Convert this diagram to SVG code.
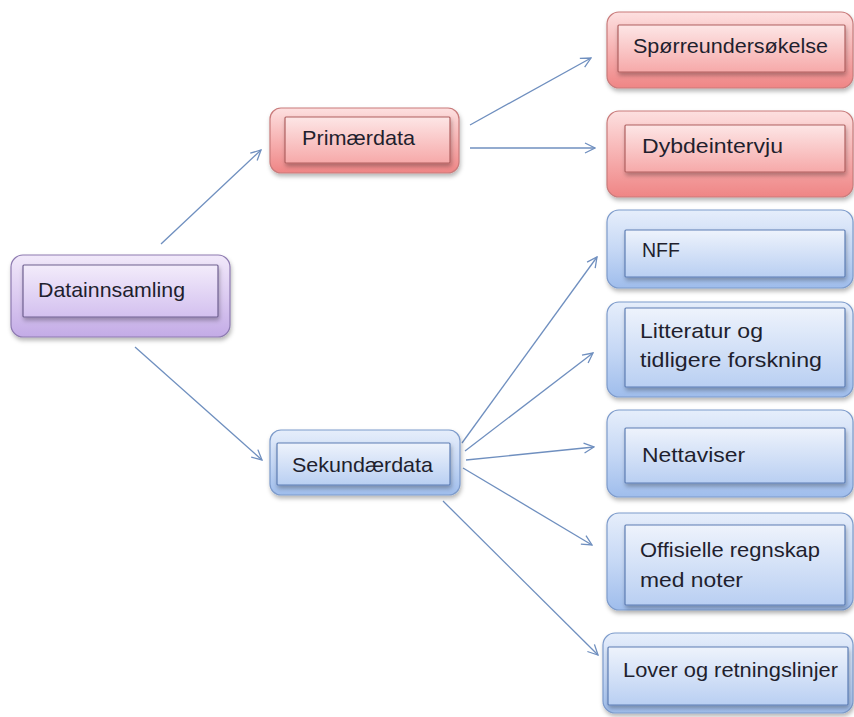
<svg xmlns="http://www.w3.org/2000/svg" width="854" height="717" viewBox="0 0 854 717">
  <defs>
    <linearGradient id="redOuter" x1="0" y1="0" x2="0" y2="1">
      <stop offset="0" stop-color="#fde0e0"/>
      <stop offset="0.5" stop-color="#f7b2b2"/>
      <stop offset="1" stop-color="#ef8585"/>
    </linearGradient>
    <linearGradient id="redInner" x1="0" y1="0" x2="0" y2="1">
      <stop offset="0" stop-color="#fde6e6"/>
      <stop offset="1" stop-color="#f6a9a9"/>
    </linearGradient>
    <linearGradient id="blueOuter" x1="0" y1="0" x2="0" y2="1">
      <stop offset="0" stop-color="#e6eefb"/>
      <stop offset="0.5" stop-color="#c6d8f5"/>
      <stop offset="1" stop-color="#9fbdec"/>
    </linearGradient>
    <linearGradient id="blueInner" x1="0" y1="0" x2="0" y2="1">
      <stop offset="0" stop-color="#eef3fc"/>
      <stop offset="1" stop-color="#b9cff2"/>
    </linearGradient>
    <linearGradient id="purpleOuter" x1="0" y1="0" x2="0" y2="1">
      <stop offset="0" stop-color="#f1e9fa"/>
      <stop offset="0.5" stop-color="#dccbf1"/>
      <stop offset="1" stop-color="#c3abe6"/>
    </linearGradient>
    <linearGradient id="purpleInner" x1="0" y1="0" x2="0" y2="1">
      <stop offset="0" stop-color="#f3ecfb"/>
      <stop offset="1" stop-color="#d3c0ef"/>
    </linearGradient>
    <filter id="shadow" x="-10%" y="-10%" width="125%" height="140%">
      <feDropShadow dx="1" dy="3" stdDeviation="2" flood-color="#000" flood-opacity="0.28"/>
    </filter>
    <marker id="arrow" viewBox="0 0 12 12" refX="11" refY="6" markerWidth="12" markerHeight="12" markerUnits="userSpaceOnUse" orient="auto">
      <path d="M1,1 L11,6 L1,11" fill="none" stroke="#6f8fbf" stroke-width="1.3"/>
    </marker>
  </defs>
  <style>
    .outer { stroke-width: 1.2; filter: url(#shadow); }
    .inner { stroke-width: 1.2; filter: url(#shadow); }
    .red .outer { fill: url(#redOuter); stroke: #c97b7b; }
    .red .inner { fill: url(#redInner); stroke: #b06060; }
    .blue .outer { fill: url(#blueOuter); stroke: #7d9bcb; }
    .blue .inner { fill: url(#blueInner); stroke: #5d7db3; }
    .purple .outer { fill: url(#purpleOuter); stroke: #8d7ab0; }
    .purple .inner { fill: url(#purpleInner); stroke: #6f6090; }
    text { font-family: "Liberation Sans", Arial, sans-serif; font-size: 21px; fill: #1f1f2e; }
    .conn line { stroke: #6f8fbf; stroke-width: 1.3; fill: none; marker-end: url(#arrow); }
  </style>
  <rect width="854" height="717" fill="#ffffff"/>

  <!-- connectors -->
  <g id="connectors" class="conn">
    <line x1="161" y1="244" x2="261" y2="150"/>
    <line x1="135" y1="347" x2="262" y2="460"/>
    <line x1="470" y1="125" x2="591" y2="58"/>
    <line x1="470" y1="148" x2="595" y2="148"/>
    <line x1="462" y1="443" x2="597" y2="257"/>
    <line x1="465" y1="451" x2="593" y2="353"/>
    <line x1="466" y1="460" x2="594" y2="447"/>
    <line x1="463" y1="468" x2="592" y2="545"/>
    <line x1="443" y1="501" x2="598" y2="655"/>
  </g>

  <!-- root -->
  <g id="datainnsamling" class="purple">
    <rect class="outer" x="11" y="255" width="219" height="82" rx="12"/>
    <rect class="inner" x="23" y="265" width="195" height="52" rx="1"/>
    <text x="38" y="297" textLength="147" lengthAdjust="spacingAndGlyphs">Datainnsamling</text>
  </g>

  <!-- level 1 -->
  <g id="primaerdata" class="red">
    <rect class="outer" x="270" y="108" width="189" height="65" rx="11"/>
    <rect class="inner" x="285" y="117" width="165" height="46" rx="1"/>
    <text x="302" y="145" textLength="113" lengthAdjust="spacingAndGlyphs">Primærdata</text>
  </g>
  <g id="sekundaerdata" class="blue">
    <rect class="outer" x="270" y="430" width="190" height="65" rx="11"/>
    <rect class="inner" x="277" y="443" width="173" height="42" rx="1"/>
    <text x="292" y="472" textLength="141" lengthAdjust="spacingAndGlyphs">Sekundærdata</text>
  </g>

  <!-- primary sources -->
  <g id="sporreundersokelse" class="red">
    <rect class="outer" x="607" y="12" width="246" height="76" rx="12"/>
    <rect class="inner" x="618" y="25" width="227" height="47" rx="1"/>
    <text x="633" y="53" textLength="195" lengthAdjust="spacingAndGlyphs">Spørreundersøkelse</text>
  </g>
  <g id="dybdeintervju" class="red">
    <rect class="outer" x="607" y="111" width="246" height="86" rx="12"/>
    <rect class="inner" x="625" y="125" width="220" height="47" rx="1"/>
    <text x="642" y="153" textLength="141" lengthAdjust="spacingAndGlyphs">Dybdeintervju</text>
  </g>

  <!-- secondary sources -->
  <g id="nff" class="blue">
    <rect class="outer" x="607" y="210" width="246" height="78" rx="12"/>
    <rect class="inner" x="625" y="230" width="220" height="47" rx="1"/>
    <text x="642" y="257" textLength="38" lengthAdjust="spacingAndGlyphs">NFF</text>
  </g>
  <g id="litteratur" class="blue">
    <rect class="outer" x="607" y="302" width="246" height="95" rx="12"/>
    <rect class="inner" x="625" y="308" width="220" height="79" rx="1"/>
    <text x="640" y="338" textLength="123" lengthAdjust="spacingAndGlyphs">Litteratur og</text>
    <text x="640" y="367" textLength="182" lengthAdjust="spacingAndGlyphs">tidligere forskning</text>
  </g>
  <g id="nettaviser" class="blue">
    <rect class="outer" x="607" y="410" width="246" height="87" rx="12"/>
    <rect class="inner" x="625" y="428" width="220" height="55" rx="1"/>
    <text x="642" y="462" textLength="103" lengthAdjust="spacingAndGlyphs">Nettaviser</text>
  </g>
  <g id="offisielle" class="blue">
    <rect class="outer" x="607" y="513" width="246" height="97" rx="12"/>
    <rect class="inner" x="625" y="525" width="220" height="80" rx="1"/>
    <text x="640" y="557" textLength="180" lengthAdjust="spacingAndGlyphs">Offisielle regnskap</text>
    <text x="640" y="587" textLength="103" lengthAdjust="spacingAndGlyphs">med noter</text>
  </g>
  <g id="lover" class="blue">
    <rect class="outer" x="603" y="633" width="250" height="80" rx="12"/>
    <rect class="inner" x="608" y="647" width="240" height="58" rx="1"/>
    <text x="623" y="677" textLength="215" lengthAdjust="spacingAndGlyphs">Lover og retningslinjer</text>
  </g>
</svg>
